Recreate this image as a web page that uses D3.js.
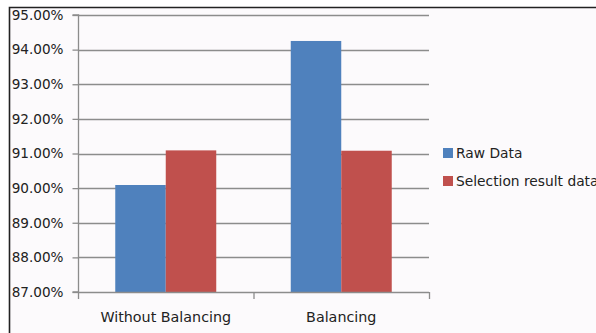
<!DOCTYPE html>
<html><head><meta charset="utf-8">
<script src="https://cdn.jsdelivr.net/npm/d3@7"></script>
<style>html,body{margin:0;padding:0;background:#fff;}svg{display:block;}</style>
</head><body>
<svg id="c" width="596" height="333"></svg>
<script>
const categories = ["Without Balancing", "Balancing"];
const seriesNames = ["Raw Data", "Selection result data"];
const rawData = [90.09, 94.25];
const selectionData = [91.09, 91.08];
const yTicks = [87, 88, 89, 90, 91, 92, 93, 94, 95];
const colors = ["#4f81bd", "#c0504d"];

const svg = d3.select("#c");
const font = "'DejaVu Sans', sans-serif";

// chart background and border
svg.append("rect").attr("x", 9).attr("y", 7).attr("width", 587).attr("height", 326).attr("fill", "#fcfafc");
svg.append("path").attr("d", "M9.5,333V7.5H596").attr("fill", "none").attr("stroke", "#222").attr("stroke-width", 1.6);

const plotLeft = 78, plotRight = 429, plotTop = 15, plotBottom = 292;
const y = d3.scaleLinear().domain([87, 95]).range([plotBottom, plotTop]);
const x0 = d3.scaleBand().domain(categories).range([plotLeft, plotRight]).padding(0);
const pad = x0.bandwidth() * 0.2123;
const x1 = d3.scaleBand().domain(seriesNames).range([pad, x0.bandwidth() - pad]).padding(0);

// gridlines
svg.append("g").selectAll("line").data(yTicks.slice(1)).join("line")
  .attr("x1", plotLeft).attr("x2", plotRight)
  .attr("y1", d => Math.round(y(d)) + 0.5).attr("y2", d => Math.round(y(d)) + 0.5)
  .attr("stroke", "#8c8c8c").attr("stroke-width", 1.3);

// y axis
const yAxis = d3.axisLeft(y).tickValues(yTicks).tickSize(6).tickPadding(9)
  .tickFormat(d => d.toFixed(2) + "%");
const gy = svg.append("g").attr("transform", `translate(${plotLeft + 0.5},0)`).call(yAxis);
gy.select(".domain").attr("stroke", "#8c8c8c").attr("stroke-width", 1.3).attr("d", `M-6,${y(95)}H0V${plotBottom}H-6`);
gy.selectAll(".tick line").attr("stroke", "#8c8c8c").attr("stroke-width", 1.3);
gy.selectAll(".tick text").attr("font-family", font).attr("font-size", "13.6px").attr("fill", "#222");

// bars
const data = categories.map((c, i) => ({cat: c, vals: [rawData[i], selectionData[i]]}));
const groups = svg.append("g").selectAll("g").data(data).join("g")
  .attr("transform", d => `translate(${x0(d.cat)},0)`);
groups.selectAll("rect").data(d => d.vals.map((v, j) => ({s: seriesNames[j], v, j}))).join("rect")
  .attr("x", d => x1(d.s)).attr("width", x1.bandwidth())
  .attr("y", d => y(d.v)).attr("height", d => plotBottom - y(d.v))
  .attr("fill", d => colors[d.j]);

// x axis
const xAxis = d3.axisBottom(x0).tickSize(0).tickPadding(0);
const gx = svg.append("g").attr("transform", `translate(0,${plotBottom + 0.5})`).call(xAxis);
gx.select(".domain").attr("stroke", "#8c8c8c").attr("stroke-width", 1.3).attr("d", `M${plotLeft},0H${plotRight}`);
gx.selectAll(".tick text").attr("font-family", font).attr("font-size", "14.3px").attr("fill", "#222").attr("dy", "29.5px");
// category separator ticks
const sepTicks = [plotLeft, plotLeft + x0.bandwidth(), plotRight];
svg.append("g").selectAll("line").data(sepTicks).join("line")
  .attr("x1", d => d + 0.5).attr("x2", d => d + 0.5).attr("y1", plotBottom).attr("y2", plotBottom + 7)
  .attr("stroke", "#8c8c8c").attr("stroke-width", 1.3);

// legend
const lg = svg.append("g").attr("transform", "translate(443,148)");
const li = lg.selectAll("g").data(seriesNames).join("g").attr("transform", (d, i) => `translate(0,${i * 28})`);
li.append("rect").attr("width", 10).attr("height", 10).attr("fill", (d, i) => colors[i]);
li.append("text").attr("x", 13).attr("y", 10).attr("font-family", font).attr("font-size", "13.8px").attr("fill", "#222").text(d => d);
</script>
</body></html>
